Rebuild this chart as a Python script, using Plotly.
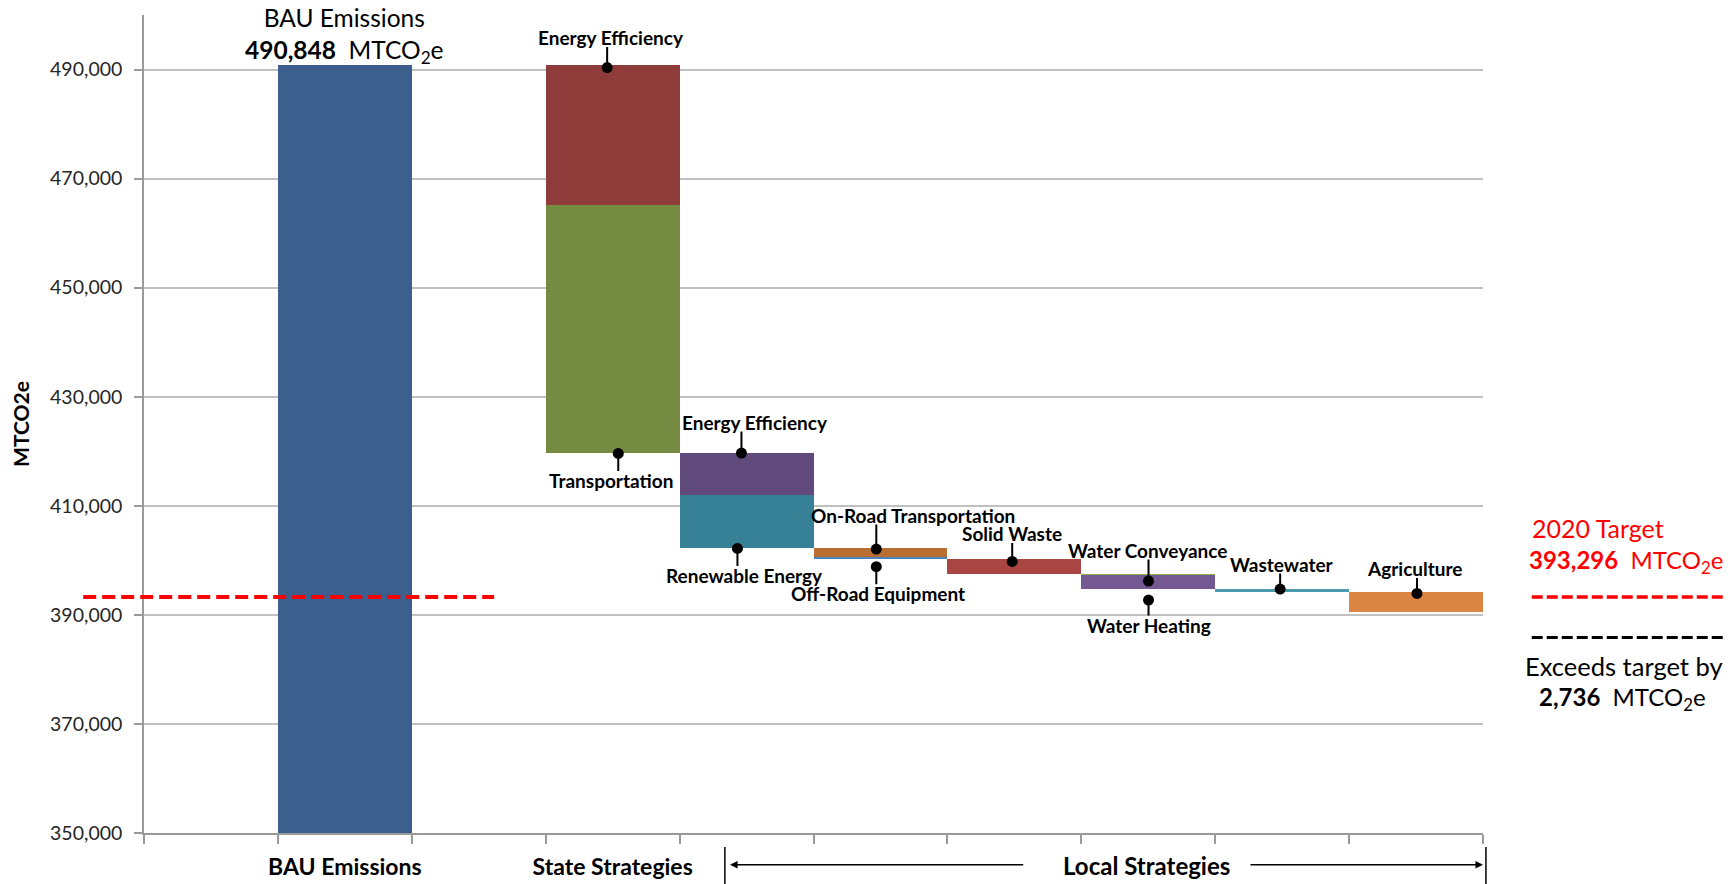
import plotly.graph_objects as go

FONT = "Lato"

# ---------------- data ----------------
n_categories = 10
axis_labels = ["BAU Emissions", "State Strategies"]
axis_label_pos = [1, 3]

bau_name = "BAU Emissions"
bau_cat = 1
bau_value = 490848
target_value = 393296

seg_names = ["Energy Efficiency", "Transportation", "Energy Efficiency", "Renewable Energy",
             "On-Road Transportation", "Off-Road Equipment", "Solid Waste",
             "Water Conveyance", "Water Heating", "Wastewater", "Agriculture"]
seg_cat = [3, 3, 4, 4, 5, 5, 6, 7, 7, 8, 9]
seg_reduction = [25612, 45642, 7698, 9587, 1809, 200, 2885, 115, 2506, 683, 3551]
seg_colors = ["#8E3B39", "#748B41", "#604A7B", "#378196", "#B96F31", "#4F81BD",
              "#A94644", "#8DB04E", "#735892", "#4B9BAF", "#DA8541"]

# data-label anchor points
label_dx = [-0.041, 0.042, -0.038, -0.068, -0.031, -0.031, -0.016, 0.002, 0.002, -0.015, 0.007]
label_value = [490350, 419594, 419660, 402180, 402070, 398830, 399800, 396210, 392720, 394740, 393930]
label_ax = [4, -7, 14, 7, 37, 2, 0, -1, 0, 2, -2]
label_ay = [-30, 27, -31, 27, -34, 27, -28, -31, 25, -25, -25]

# ---------------- waterfall geometry ----------------
bottoms = []
running = bau_value
for r in seg_reduction:
    running -= r
    bottoms.append(running)
final_value = running
exceed = target_value - final_value

fig = go.Figure()

fig.add_trace(go.Bar(x=[bau_cat], y=[bau_value], base=[0], width=1,
                     marker=dict(color="#3C5F8D", line=dict(width=0)),
                     hoverinfo="skip", showlegend=False))

fig.add_trace(go.Bar(x=seg_cat, y=seg_reduction, base=bottoms, width=1,
                     marker=dict(color=seg_colors, line=dict(width=0)),
                     hoverinfo="skip", showlegend=False))

dot_x = [c + d for c, d in zip(seg_cat, label_dx)]

annotations = []
LEAD_GAP = 9
for name, x, y, ax, ay in zip(seg_names, dot_x, label_value, label_ax, label_ay):
    # vertical leader line from the point towards the label
    lead = (abs(ay) - LEAD_GAP) * (1 if ay > 0 else -1)
    annotations.append(dict(x=x, y=y, xref="x", yref="y", text="", showarrow=True,
                            arrowhead=0, arrowwidth=2, arrowcolor="black", ax=0, ay=lead,
                            borderpad=0, font=dict(size=1)))
    # label text
    annotations.append(dict(x=x, y=y, xref="x", yref="y", text="<b>%s</b>" % name,
                            showarrow=False, xshift=ax, yshift=-ay,
                            font=dict(family=FONT, size=19, color="black")))

fig.add_trace(go.Scatter(x=dot_x, y=label_value, mode="markers",
                         marker=dict(color="black", size=11),
                         cliponaxis=False, hoverinfo="skip", showlegend=False))

MT = "MTCO<sub>2</sub>e"
# BAU title
annotations.append(dict(x=bau_cat, y=bau_value, xref="x", yref="y", yanchor="bottom",
                        text="BAU Emissions<br><b>%s</b>  %s" % (f"{bau_value:,}", MT),
                        showarrow=False, yshift=-5,
                        font=dict(family=FONT, size=24.5, color="black")))

# right-hand notes
annotations += [
    dict(x=1.035, y=0.373, xref="paper", yref="paper", xanchor="left", yanchor="middle",
         text="2020 Target",
         showarrow=False, font=dict(family=FONT, size=25, color="#FF0000")),
    dict(x=1.033, y=0.332, xref="paper", yref="paper", xanchor="left", yanchor="middle",
         text="<b>%s</b>  %s" % (f"{target_value:,}", MT),
         showarrow=False, font=dict(family=FONT, size=24, color="#FF0000")),
    dict(x=1.030, y=0.204, xref="paper", yref="paper", xanchor="left", yanchor="middle",
         text="Exceeds target by",
         showarrow=False, font=dict(family=FONT, size=25.5, color="black")),
    dict(x=1.040, y=0.165, xref="paper", yref="paper", xanchor="left", yanchor="middle",
         text="<b>%s</b>  %s" % (f"{exceed:,}", MT),
         showarrow=False, font=dict(family=FONT, size=24, color="black")),
]

# Local strategies bracket
x_lo, x_hi = -0.5, n_categories - 0.5
def to_paper(xd):
    return (xd - x_lo) / (x_hi - x_lo)

annotations += [
    dict(x=6.99, y=-0.0396, xref="x", yref="paper", yanchor="middle", text="<b>Local Strategies</b>",
         showarrow=False, font=dict(family=FONT, size=24, color="black")),
    dict(x=3.877, y=-0.0387, xref="x", yref="paper", ax=6.07, ay=0, axref="x", ayref="pixel",
         text="", showarrow=True, arrowhead=2, arrowsize=1, arrowwidth=1.5, arrowcolor="black",
         borderpad=0, font=dict(size=1)),
    dict(x=9.5, y=-0.0387, xref="x", yref="paper", ax=7.76, ay=0, axref="x", ayref="pixel",
         text="", showarrow=True, arrowhead=2, arrowsize=1, arrowwidth=1.5, arrowcolor="black",
         borderpad=0, font=dict(size=1)),
]

shapes = [
    # target line over the chart
    dict(type="line", xref="paper", yref="y", x0=to_paper(-0.954), x1=to_paper(2.115),
         y0=target_value, y1=target_value, line=dict(color="#FF0000", width=4, dash="13px,6px")),
    # legend-like lines on the right
    dict(type="line", xref="paper", yref="y", x0=1.0364, x1=1.182,
         y0=target_value, y1=target_value, line=dict(color="#FF0000", width=3.5, dash="11px,4px")),
    dict(type="line", xref="paper", yref="paper", x0=1.0364, x1=1.182,
         y0=0.239, y1=0.239, line=dict(color="black", width=3, dash="11px,4px")),
    # bracket end bars
    dict(type="line", xref="paper", yref="paper", x0=to_paper(3.838), x1=to_paper(3.838),
         y0=-0.017, y1=-0.063, line=dict(color="black", width=1.5)),
    dict(type="line", xref="paper", yref="paper", x0=to_paper(9.522), x1=to_paper(9.522),
         y0=-0.017, y1=-0.063, line=dict(color="black", width=1.5)),
]

fig.update_layout(
    width=1735, height=884,
    margin=dict(l=144, r=252, t=15, b=51, autoexpand=False),
    paper_bgcolor="white", plot_bgcolor="white",
    barmode="overlay", bargap=0,
    font=dict(family=FONT, color="#262626"),
    annotations=annotations, shapes=shapes,
    xaxis=dict(range=[x_lo, x_hi], tickmode="array", tickvals=axis_label_pos,
               ticktext=["<b>%s</b>" % t for t in axis_labels], ticks="",
               tickfont=dict(family=FONT, size=23, color="black"),
               ticklabelstandoff=13, automargin=False,
               showline=True, linecolor="#9A9A9A", linewidth=1.5, showgrid=False, zeroline=False,
               minor=dict(tickmode="array", tickvals=[i - 0.5 for i in range(n_categories + 1)],
                          ticks="outside", ticklen=9, tickcolor="#9A9A9A", tickwidth=1.5,
                          showgrid=False)),
    yaxis=dict(range=[350000, 500000], tick0=350000, dtick=20000, tickformat=",",
               tickfont=dict(family=FONT, size=19.5, color="#262626"),
               ticks="outside", ticklen=8, tickcolor="#9A9A9A", tickwidth=1.5,
               ticklabelstandoff=8, automargin=False,
               showline=True, linecolor="#9A9A9A", linewidth=1.5,
               showgrid=True, gridcolor="#C0C0C0", gridwidth=1.5, zeroline=False,
               title=dict(text="<b>MTCO2e</b>", font=dict(family=FONT, size=21, color="black"),
                          standoff=15)),
)

fig.write_html("out.html")
